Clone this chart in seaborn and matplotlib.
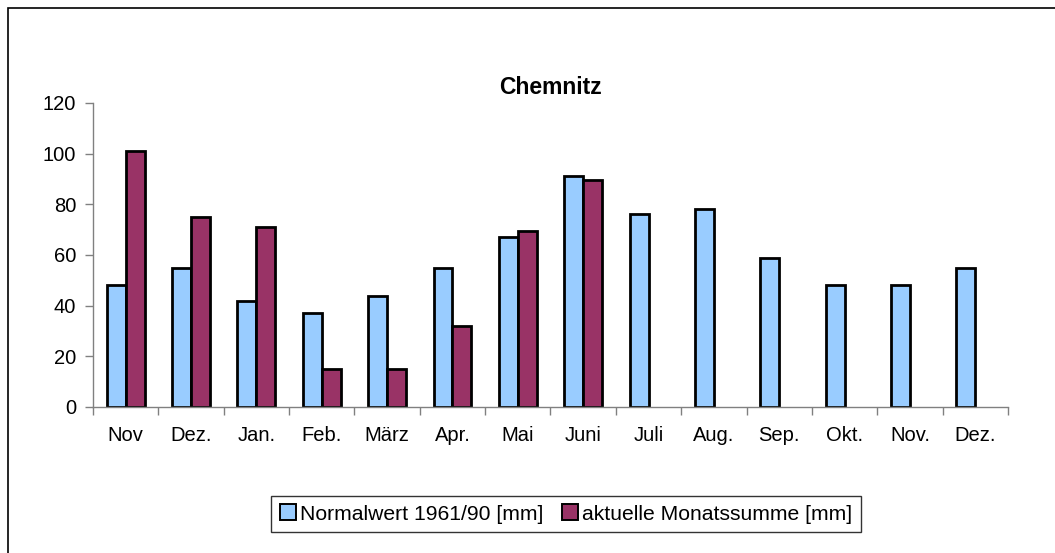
import matplotlib
matplotlib.use("Agg")
import matplotlib.pyplot as plt
import matplotlib.patches as mpatches
import numpy as np
import pandas as pd
import seaborn as sns

months = ["Nov", "Dez.", "Jan.", "Feb.", "März", "Apr.", "Mai", "Juni",
          "Juli", "Aug.", "Sep.", "Okt.", "Nov.", "Dez."]
normal = [48, 55, 42, 37, 44, 55, 67, 91, 76, 78, 59, 48, 48, 55]
aktuell = [101, 75, 71, 15, 15, 32, 69.5, 89.5,
           np.nan, np.nan, np.nan, np.nan, np.nan, np.nan]
series = ["Normalwert 1961/90 [mm]", "aktuelle Monatssumme [mm]"]
colors = ["#99CCFF", "#993366"]

df = pd.DataFrame({
    "pos": list(range(len(months))) * 2,
    "wert": normal + aktuell,
    "reihe": [series[0]] * len(months) + [series[1]] * len(months),
})

sns.set_style("white")
plt.rcParams["font.family"] = ["Liberation Sans", "DejaVu Sans"]
plt.rcParams["text.color"] = "black"
plt.rcParams["xtick.labelcolor"] = "black"
plt.rcParams["ytick.labelcolor"] = "black"

fig = plt.figure(figsize=(10.55, 5.53), dpi=100)
ax = fig.add_axes([93 / 1055, 1 - 407 / 553, 915 / 1055, 304 / 553])

sns.barplot(data=df, x="pos", y="wert", hue="reihe", hue_order=series,
            palette=colors, width=0.58, gap=0, edgecolor="black",
            linewidth=2, saturation=1, legend=False, ax=ax)

ax.set_xlim(-0.5, len(months) - 0.5)
ax.set_ylim(0, 120)
ax.set_yticks(range(0, 121, 20))
ax.set_xticks(range(len(months)))
ax.set_xticklabels(months)
ax.set_xticks(np.arange(-0.5, len(months), 1), minor=True)
ax.set_xlabel("")
ax.set_ylabel("")

for s in ["top", "right"]:
    ax.spines[s].set_visible(False)
for s in ["left", "bottom"]:
    ax.spines[s].set_color("#808080")
    ax.spines[s].set_linewidth(1)

ax.tick_params(axis="x", which="major", length=0, pad=14, labelsize=14.5,
               labelcolor="black")
ax.tick_params(axis="x", which="minor", length=6, color="#808080", width=1,
               direction="out", bottom=True)
ax.tick_params(axis="y", length=6, color="#808080", width=1, pad=6,
               labelsize=14.5, left=True, labelcolor="black")

fig.text(550 / 1055, 1 - 88 / 553, "Chemnitz", ha="center", va="center",
         fontsize=16.5, fontweight="bold", color="black")

handles = [mpatches.Patch(facecolor=c, edgecolor="black", linewidth=1.4)
           for c in colors]
leg = fig.legend(handles, series, loc="center",
                 bbox_to_anchor=(566 / 1055, 1 - 514 / 553), ncol=2,
                 fontsize=15.2, frameon=True, fancybox=False,
                 handlelength=0.75, handleheight=0.75, handletextpad=0.2,
                 columnspacing=0.9, borderpad=0.4, borderaxespad=0,
                 labelcolor="black")
leg.get_frame().set_edgecolor("black")
leg.get_frame().set_linewidth(1)

# outer chart frame (only top/left edges visible in the crop)
fig.patches.append(mpatches.Rectangle((8 / 1055, -0.1), 2, 1 - 8 / 553 + 0.1,
                                      transform=fig.transFigure, fill=False,
                                      edgecolor="black", linewidth=1.2))

fig.savefig("out.png", dpi=100)
